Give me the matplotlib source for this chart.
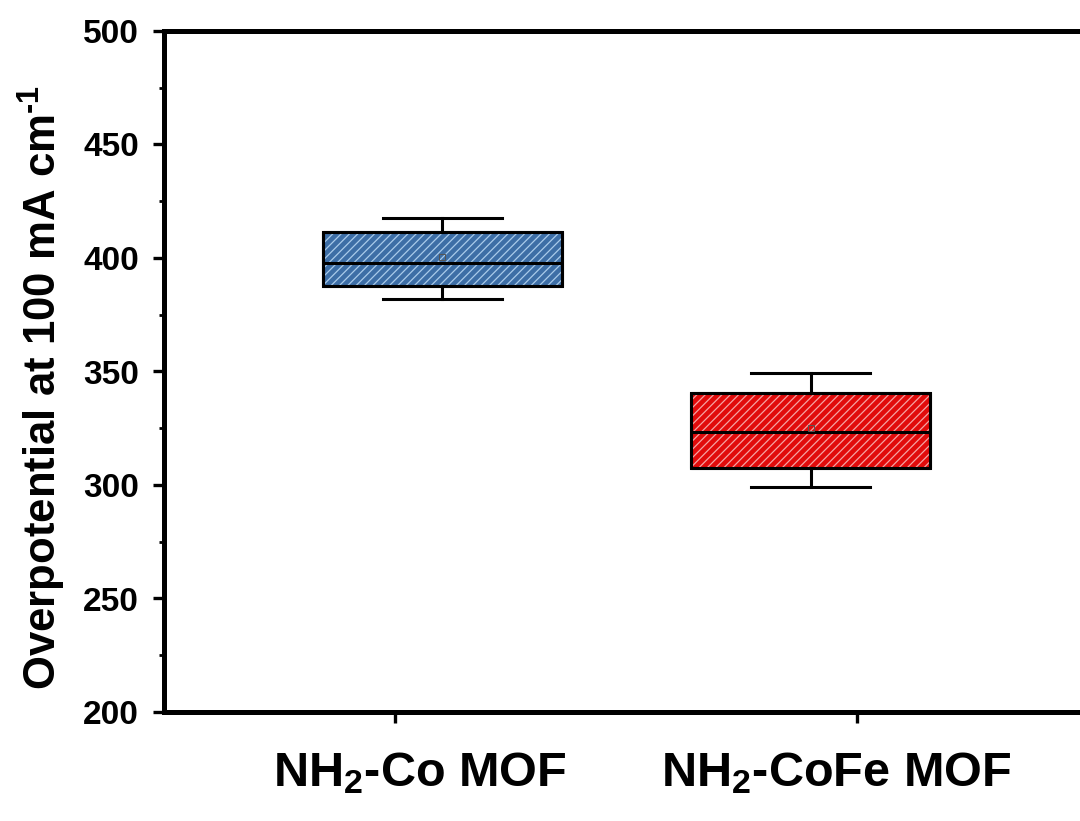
import matplotlib
matplotlib.use("Agg")
import matplotlib.pyplot as plt
from matplotlib.patches import PathPatch
from matplotlib.ticker import MultipleLocator
import matplotlib.transforms as mtransforms

plt.rcParams["font.family"] = ["Liberation Sans", "DejaVu Sans"]
plt.rcParams["font.weight"] = "bold"
plt.rcParams["mathtext.fontset"] = "custom"
plt.rcParams["mathtext.rm"] = "Liberation Sans:bold"
plt.rcParams["mathtext.bf"] = "Liberation Sans:bold"
plt.rcParams["mathtext.default"] = "rm"
plt.rcParams["hatch.linewidth"] = 0.9

# Summary statistics of the overpotential (mV) at 100 mA cm^-1
categories = ["NH$_2$-Co MOF", "NH$_2$-CoFe MOF"]
whislo = [382.0, 299.0]
q1 = [387.7, 307.5]
med = [398.0, 323.5]
q3 = [411.5, 340.5]
whishi = [417.5, 349.2]
means = [400.3, 325.0]

fill_colors = ["#3D6EA6", "#E10B0B"]
hatch_colors = ["#A9CBEA", "#F5A3A3"]

tick_pos = [1, 2]
box_pos = [1.102, 1.900]
label_pos = [1.054, 1.955]

fig = plt.figure(figsize=(10.8, 8.21), dpi=100)
ax = fig.add_axes([164 / 1080, 1 - 712 / 821, (1088 - 164) / 1080, (712 - 31) / 821])

stats = []
for i, lab in enumerate(categories):
    stats.append(dict(label=lab, whislo=whislo[i], q1=q1[i], med=med[i],
                      q3=q3[i], whishi=whishi[i], mean=means[i], fliers=[]))

lw_box = 2.2
bp = ax.bxp(stats, positions=box_pos, widths=0.517, capwidths=0.258,
            patch_artist=True, showmeans=True, showfliers=False,
            boxprops=dict(linewidth=lw_box, edgecolor="black"),
            medianprops=dict(color="black", linewidth=lw_box),
            whiskerprops=dict(color="black", linewidth=lw_box),
            capprops=dict(color="black", linewidth=lw_box),
            meanprops=dict(marker="s", markersize=4, markerfacecolor="none",
                           markeredgecolor="#555555", markeredgewidth=0.7))

for patch, fc, hc in zip(bp["boxes"], fill_colors, hatch_colors):
    patch.set_facecolor(fc)
    z = patch.get_zorder()
    hatch = PathPatch(patch.get_path(), facecolor="none", edgecolor=hc,
                      hatch="////", linewidth=0, zorder=z + 0.05)
    ax.add_patch(hatch)
    outline = PathPatch(patch.get_path(), facecolor="none", edgecolor="black",
                        linewidth=lw_box, joinstyle="round", zorder=z + 0.1)
    ax.add_patch(outline)
for m in bp["medians"]:
    m.set_zorder(5)
for m in bp["means"]:
    m.set_zorder(6)

ax.set_xlim(0.5, 2.5)
ax.set_ylim(200, 500)
ax.set_xticks(tick_pos)
ax.set_xticklabels([])
ax.yaxis.set_major_locator(MultipleLocator(50))
ax.yaxis.set_minor_locator(MultipleLocator(25))

# Category names under the axis
trans = mtransforms.blended_transform_factory(ax.transData, ax.transAxes)
for x, lab in zip(label_pos, categories):
    ax.text(x, -0.057, lab, transform=trans, ha="center", va="top",
            fontsize=35, fontweight="bold", clip_on=False)

ax.tick_params(axis="y", which="major", direction="out", length=8, width=2.4,
               labelsize=24, pad=10)
ax.tick_params(axis="y", which="minor", direction="out", length=3.5, width=2.0)
ax.tick_params(axis="x", which="major", direction="out", length=8, width=2.4)
for lab in ax.get_yticklabels():
    lab.set_fontweight("bold")

for sp in ax.spines.values():
    sp.set_linewidth(3.6)

ax.set_ylabel("Overpotential at 100 mA cm$^{\\text{-1}}$", fontsize=31.5, fontweight="bold")
ax.yaxis.set_label_coords(-0.104, 0.477)

fig.savefig("out.png", dpi=100)
